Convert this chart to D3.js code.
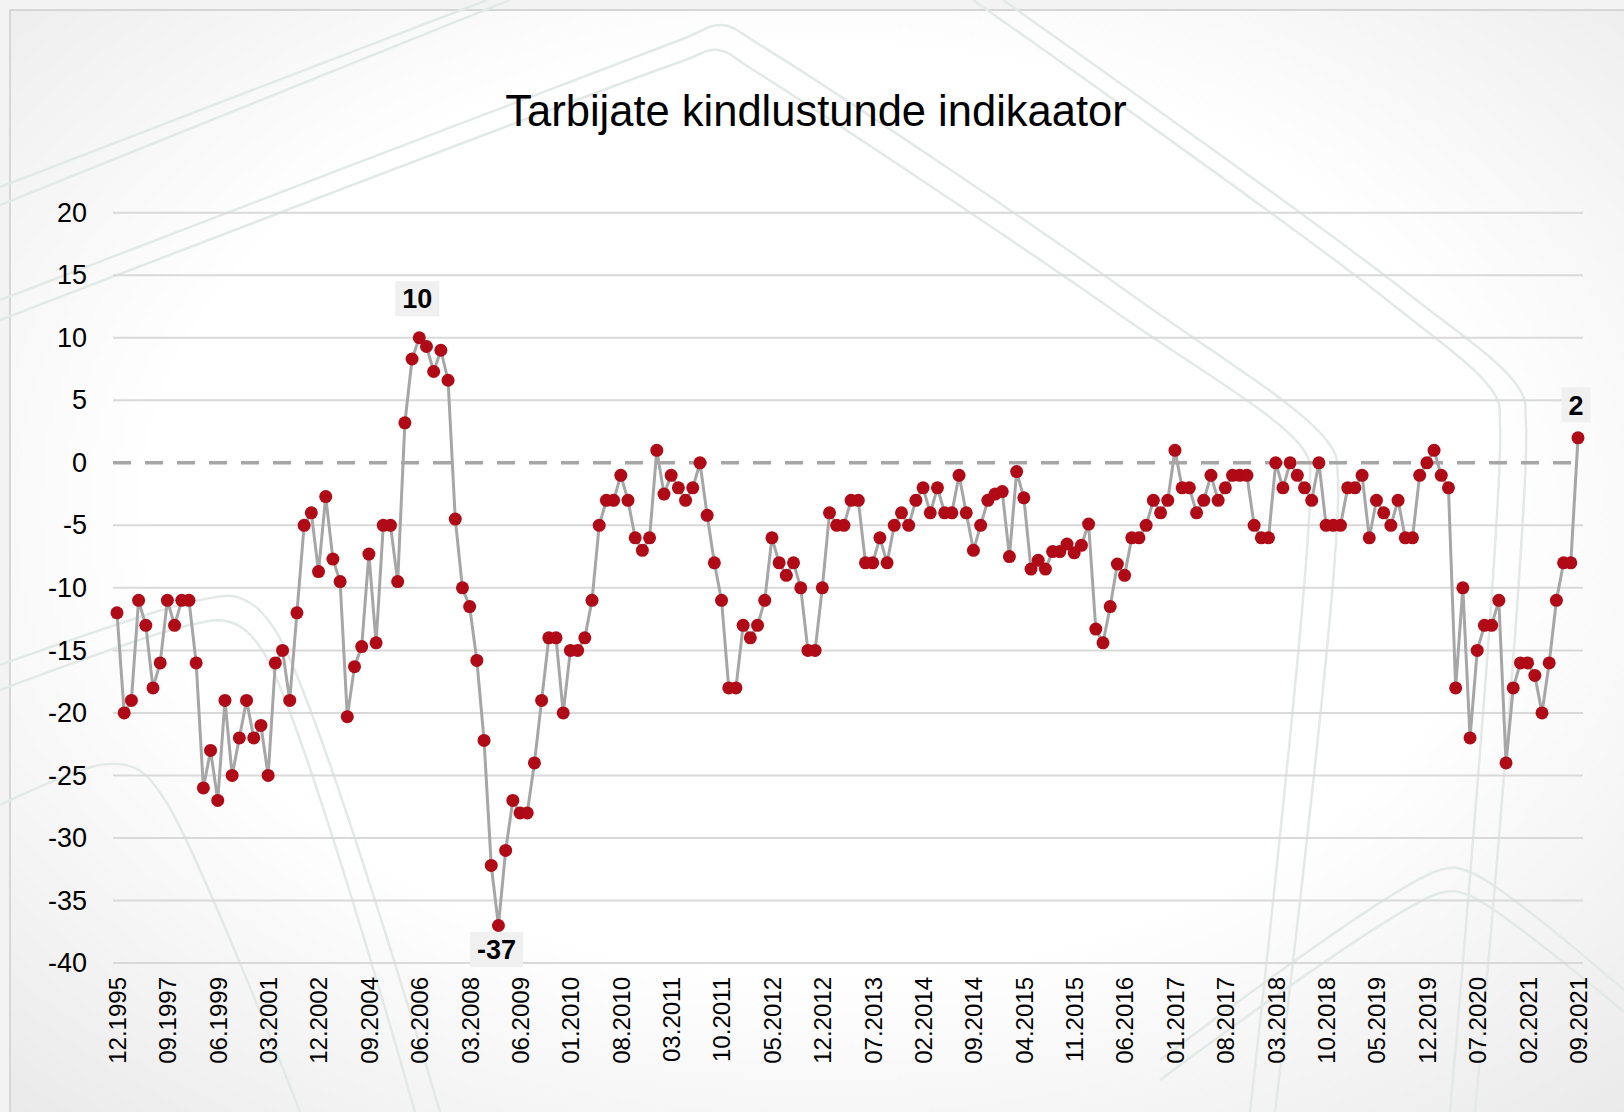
<!DOCTYPE html>
<html>
<head>
<meta charset="utf-8">
<script src="https://cdn.jsdelivr.net/npm/d3@7"></script>
<style>
  body { margin: 0; background: #fff; }
  text { font-family: "Liberation Sans", Arial, sans-serif; }
</style>
</head>
<body>
<svg id="chart"></svg>
<script>
const width = 1624,
  height = 1112,
  lineColor = "#a6a6a6",
  dotColor = "#b00a17",
  gridColor = "#d9d9d9";

const title = "Tarbijate kindlustunde indikaator";

// quarterly 12.1995 - 03.2009
const quarterly = [
  -12, -20, -19, -11, -13, -18, -16, -11, -13, -11,
  -11, -16, -26, -23, -27, -19, -25, -22, -19, -22,
  -21, -25, -16, -15, -19, -12, -5, -4, -8.7, -2.7,
  -7.7, -9.5, -20.3, -16.3, -14.7, -7.3, -14.4, -5, -5, -9.5,
  3.2, 8.3, 10, 9.3, 7.3, 9, 6.6, -4.5, -10, -11.5,
  -15.8, -22.2, -32.2, -37
];

// monthly 04.2009 - 09.2021
const monthly = [
  -31, -27, -28, -28, -24, -19, -14, -14, -20, -15,
  -15, -14, -11, -5, -3, -3, -1, -3, -6, -7,
  -6, 1, -2.5, -1, -2, -3, -2, 0, -4.2, -8,
  -11, -18, -18, -13, -14, -13, -11, -6, -8, -9,
  -8, -10, -15, -15, -10, -4, -5, -5, -3, -3,
  -8, -8, -6, -8, -5, -4, -5, -3, -2, -4,
  -2, -4, -4, -1, -4, -7, -5, -3, -2.5, -2.3,
  -7.5, -0.7, -2.8, -8.5, -7.8, -8.5, -7.1, -7.1, -6.5, -7.2,
  -6.6, -4.9, -13.3, -14.4, -11.5, -8.1, -9, -6, -6, -5,
  -3, -4, -3, 1, -2, -2, -4, -3, -1, -3,
  -2, -1, -1, -1, -5, -6, -6, 0, -2, 0,
  -1, -2, -3, 0, -5, -5, -5, -2, -2, -1,
  -6, -3, -4, -5, -3, -6, -6, -1, 0, 1,
  -1, -2, -18, -10, -22, -15, -13, -13, -11, -24,
  -18, -16, -16, -17, -20, -16, -11, -8, -8, 2
];

const tickLabels = [
  "12.1995", "09.1997", "06.1999", "03.2001", "12.2002", "09.2004",
  "06.2006", "03.2008", "06.2009", "01.2010", "08.2010", "03.2011",
  "10.2011", "05.2012", "12.2012", "07.2013", "02.2014", "09.2014",
  "04.2015", "11.2015", "06.2016", "01.2017", "08.2017", "03.2018",
  "10.2018", "05.2019", "12.2019", "07.2020", "02.2021", "09.2021"
];
const yTicks = [20, 15, 10, 5, 0, -5, -10, -15, -20, -25, -30, -35, -40];

// points that carry a value label: max, min, last
const labelledPeriods = ["06.2006", "03.2009", "09.2021"];

// period names: quarterly until 03.2009, monthly afterwards
const period = t => String(t % 12 + 1).padStart(2, "0") + "." + Math.floor(t / 12);
const categories = [];
for (let t = 1995 * 12 + 11; t <= 2009 * 12 + 2; t += 3) categories.push(period(t));
for (let t = 2009 * 12 + 3; t <= 2021 * 12 + 8; t++) categories.push(period(t));

const values = quarterly.concat(monthly);
const data = categories.map((c, i) => ({ period: c, value: values[i] }));

// plain hyphen for negatives, like the original
const fmt = d => String(d);

const chart = d3.select("#chart")
  .attr("width", width)
  .attr("height", height);

// background panel
const defs = chart.append("defs");
const grad = defs.append("radialGradient")
  .attr("id", "bg")
  .attr("cx", "50%").attr("cy", "45%").attr("r", "75%");
grad.append("stop").attr("offset", "55%").attr("stop-color", "#ffffff");
grad.append("stop").attr("offset", "100%").attr("stop-color", "#e9e9e9");

chart.append("rect")
  .attr("width", width).attr("height", height)
  .attr("fill", "#f3f3f3");
chart.append("rect")
  .attr("x", 10).attr("y", 10)
  .attr("width", width).attr("height", height)
  .attr("fill", "url(#bg)")
  .attr("stroke", "#d6d6d6")
  .attr("stroke-width", 2);

// faint decorative strokes of the slide template
const deco = chart.append("g")
  .attr("fill", "none")
  .attr("stroke", "#e3e9e7")
  .attr("stroke-width", 2.5);
const decoLine = d3.line().curve(d3.curveCatmullRom.alpha(0.5));
[
  [[0, 187], [487, 0]],
  [[0, 205], [510, 0]],
  [[0, 300], [680, 40], [722, 25], [760, 45], [1139, 300], [1330, 445], [1338, 480], [1275, 1112]],
  [[0, 320], [680, 62], [718, 50], [750, 68], [1120, 315], [1305, 452], [1310, 485], [1250, 1112]],
  [[973, 0], [1387, 300], [1495, 395], [1500, 425], [1450, 1112]],
  [[1003, 0], [1410, 295], [1520, 390], [1526, 425], [1475, 1112]],
  [[0, 665], [200, 600], [240, 598], [275, 630], [440, 1112]],
  [[0, 690], [190, 625], [230, 622], [262, 650], [415, 1112]],
  [[0, 805], [100, 765], [135, 768], [165, 800], [300, 1112]],
  [[1160, 1060], [1440, 870], [1470, 872], [1624, 990]],
  [[1160, 1080], [1440, 893], [1468, 895], [1624, 1012]]
].forEach(pts => deco.append("path").attr("d", decoLine(pts)));

const x = d3.scalePoint()
  .domain(categories)
  .range([117, 1578]);
const y = d3.scaleLinear()
  .domain([-40, 20])
  .range([963, 212.7]);

const gridLeft = 113, gridRight = 1583;

// title
chart.append("text")
  .attr("x", 816)
  .attr("y", 126)
  .attr("text-anchor", "middle")
  .attr("font-size", 43.5)
  .attr("fill", "#000")
  .text(title);

// gridlines
chart.append("g").selectAll("line")
  .data(yTicks.filter(d => d !== 0))
  .enter().append("line")
  .attr("x1", gridLeft).attr("x2", gridRight)
  .attr("y1", d => y(d)).attr("y2", d => y(d))
  .attr("stroke", gridColor)
  .attr("stroke-width", 2);

chart.append("line")
  .attr("x1", gridLeft).attr("x2", gridRight)
  .attr("y1", y(0)).attr("y2", y(0))
  .attr("stroke", lineColor)
  .attr("stroke-width", 3.5)
  .attr("stroke-dasharray", "18,14");

// y axis
let yAxis = d3.axisLeft(y)
  .tickValues(yTicks)
  .tickFormat(fmt)
  .tickSize(0)
  .tickPadding(26);
chart.append("g")
  .attr("transform", `translate(${gridLeft}, 0)`)
  .call(yAxis)
  .call(g => g.select(".domain").remove())
  .selectAll("text")
  .attr("font-size", 27)
  .attr("font-family", "Liberation Sans, Arial, sans-serif")
  .attr("fill", "#000");

// x axis
let xAxis = d3.axisBottom(x)
  .tickValues(tickLabels)
  .tickSize(0);
chart.append("g")
  .attr("transform", `translate(0, ${y(-40)})`)
  .call(xAxis)
  .call(g => g.select(".domain").remove())
  .selectAll("text")
  .attr("font-size", 24)
  .attr("font-family", "Liberation Sans, Arial, sans-serif")
  .attr("fill", "#000")
  .attr("transform", "rotate(-90)")
  .attr("x", -14)
  .attr("y", 0)
  .attr("dy", "0.35em")
  .style("text-anchor", "end");

// series
const line = d3.line()
  .x(d => x(d.period))
  .y(d => y(d.value));
chart.append("path")
  .datum(data)
  .attr("d", line)
  .attr("fill", "none")
  .attr("stroke", lineColor)
  .attr("stroke-width", 3)
  .attr("stroke-linejoin", "round");

chart.append("g").selectAll("circle")
  .data(data)
  .enter().append("circle")
  .attr("cx", d => x(d.period))
  .attr("cy", d => y(d.value))
  .attr("r", 6.5)
  .attr("fill", dotColor);

// value labels
const minValue = d3.min(values);
const labels = chart.append("g").selectAll("g")
  .data(data.filter(d => labelledPeriods.includes(d.period)))
  .enter().append("g")
  .attr("transform", d => {
    let below = d.value === minValue;
    let cy = below ? y(d.value) + 24 : y(d.value) - (d.value > 5 ? 39 : 33);
    return `translate(${x(d.period) - 2}, ${cy})`;
  });
labels.append("rect")
  .attr("fill", "#f0f0f0");
labels.append("text")
  .attr("text-anchor", "middle")
  .attr("dy", "0.36em")
  .attr("font-size", 27)
  .attr("font-weight", "bold")
  .attr("fill", "#000")
  .text(d => fmt(d.value));
labels.each(function() {
  let b = d3.select(this).select("text").node().getBBox();
  d3.select(this).select("rect")
    .attr("x", b.x - 7).attr("y", -17.5)
    .attr("width", b.width + 14).attr("height", 35);
});
</script>
</body>
</html>
